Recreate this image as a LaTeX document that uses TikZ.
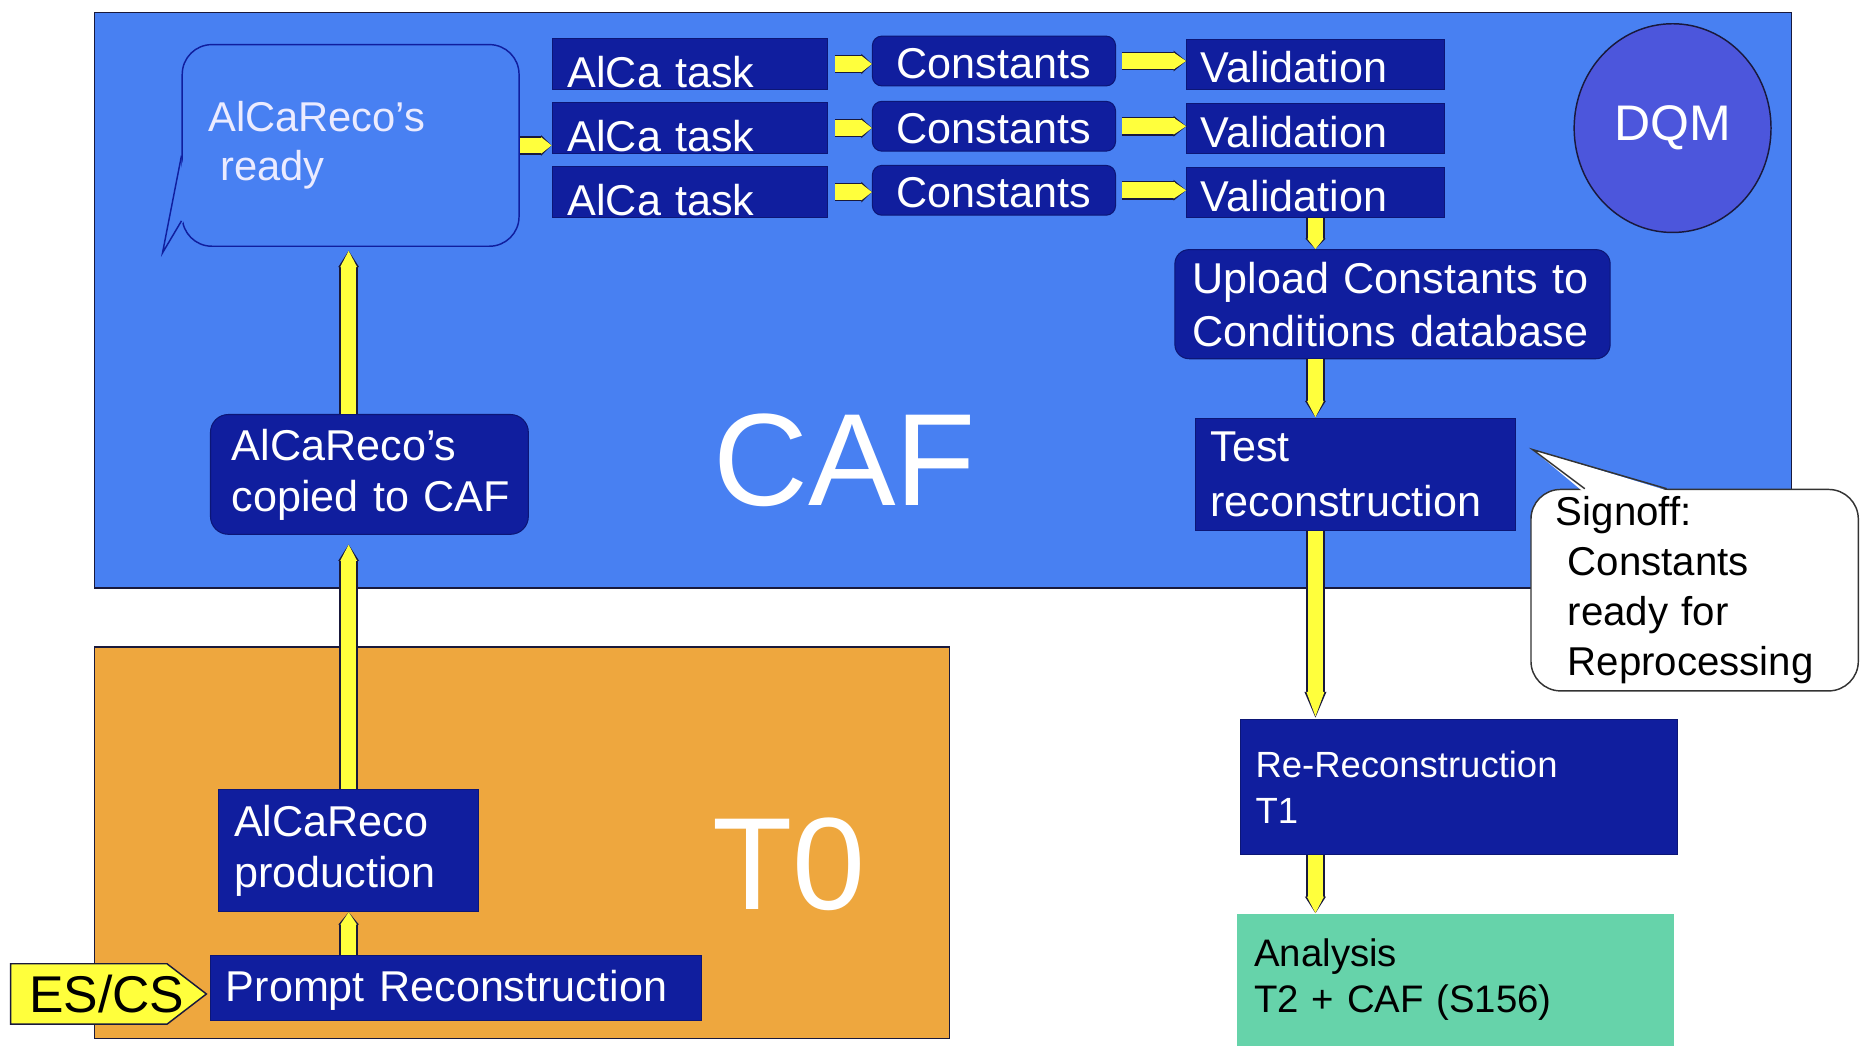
\documentclass[tikz,border=0pt]{standalone}
\usepackage{fontspec}
\setmainfont{Liberation Sans}
\setsansfont{Liberation Sans}
\usetikzlibrary{arrows.meta,calc,positioning,shapes.geometric,shapes.symbols}

\definecolor{cafblue}{RGB}{72,128,242}
\definecolor{tzorange}{RGB}{238,167,62}
\definecolor{taskblue}{RGB}{16,30,158}
\definecolor{dqmblue}{RGB}{76,86,220}
\definecolor{anagreen}{RGB}{102,211,170}
\definecolor{pipeyellow}{RGB}{255,255,60}
\definecolor{lineink}{RGB}{25,25,60}

\begin{document}
\begin{tikzpicture}[x=0.02cm, y=-0.02cm,
    region/.style={draw=lineink, line width=0.7pt, anchor=north west, inner sep=0pt},
    bigtext/.style={text=white, font=\fontsize{63}{63}\selectfont, inner sep=0pt},
    box/.style={fill=taskblue, draw=taskblue!75!black, line width=0.5pt, anchor=north west,
        text=white, font=\fontsize{20.7}{25}\selectfont, align=left},
    task/.style={box, minimum width=4.64cm, minimum height=0.86cm, inner xsep=0.26cm,
        inner ysep=0pt, text width=4.12cm, text height=0.8cm, text depth=0pt},
    const/.style={box, rounded corners=0.16cm, minimum width=4.1cm, minimum height=0.84cm,
        inner ysep=0pt, text height=0.58cm, text depth=0pt},
    valid/.style={box, minimum width=4.34cm, minimum height=0.84cm, inner xsep=0.24cm,
        inner ysep=0pt, text width=3.86cm, text height=0.62cm, text depth=0pt},
    callout/.style={anchor=north west, rounded corners=0.5cm, align=left, line width=0.7pt},
    pipe/.style={draw=pipeyellow, line width=7.5pt, -{Triangle[length=#1, width=7.5pt]},
        preaction={draw=lineink, line width=9pt, -{Triangle[length=#1, width=9.5pt]}}},
    pipe/.default=8pt
]
\fill[white] (0,0) rectangle (1568,881);
\useasboundingbox (0,0) rectangle (1568,881);

% the two sites
\node[region, fill=cafblue, minimum width=28.62cm, minimum height=9.7cm] (caf) at (79,10) {};
\node[region, fill=tzorange, minimum width=14.42cm, minimum height=6.6cm] (t0) at (79,545) {};
\node[bigtext] (caflabel) at (712,388) {CAF};
\node[bigtext] (t0label) at (665,729) {T0};

% CAF
\node[callout, fill=cafblue, draw=taskblue, minimum width=5.68cm, minimum height=3.4cm,
    inner xsep=0.44cm, text width=4.8cm, text=white!92!blue,
    font=\fontsize{20}{23.5}\selectfont] (ready) at (153,37) {AlCaReco's\\\hspace*{0.2cm}ready};

\node[task] (task1) at (465,32) {AlCa task};
\node[task] (task2) at (465,86) {AlCa task};
\node[task] (task3) at (465,140) {AlCa task};
\node[const] (const1) at (735,30) {Constants};
\node[const] (const2) at (735,85) {Constants};
\node[const] (const3) at (735,139) {Constants};
\node[valid] (val1) at (1000,33) {Validation};
\node[valid] (val2) at (1000,87) {Validation};
\node[valid] (val3) at (1000,141) {Validation};

\node[ellipse, fill=dqmblue, draw=lineink, line width=0.7pt, minimum width=3.32cm,
    minimum height=3.52cm, text=white, font=\fontsize{24}{24}\selectfont] (dqm) at (1410,108) {DQM};

\node[box, rounded corners=0.24cm, minimum width=7.34cm, minimum height=1.84cm,
    inner xsep=0.3cm, text width=6.74cm, font=\fontsize{20.7}{25.5}\selectfont]
    (upload) at (990,210) {\mbox{Upload Constants to}\\\mbox{Conditions database}};
\node[box, minimum width=5.4cm, minimum height=1.9cm, inner xsep=0.26cm, text width=4.88cm,
    font=\fontsize{20.7}{26}\selectfont] (test) at (1007,352) {Test\\reconstruction};
\node[box, rounded corners=0.3cm, minimum width=5.36cm, minimum height=2.02cm,
    inner xsep=0.36cm, text width=4.64cm, font=\fontsize{20.7}{24.5}\selectfont]
    (copied) at (177,349) {AlCaReco's\\\mbox{copied to CAF}};

% outside the sites
\node[callout, fill=white, draw=black!80, minimum width=5.52cm, minimum height=3.26cm,
    inner xsep=0.42cm, text width=4.68cm, font=\fontsize{19.3}{24}\selectfont]
    (signoff) at (1290,412) {Signoff:\\\hspace*{0.2cm}Constants\\\hspace*{0.2cm}ready for\\\hspace*{0.2cm}Reprocessing};
\node[box, minimum width=7.38cm, minimum height=2.28cm, inner xsep=0.26cm, text width=6.86cm,
    font=\fontsize{17.5}{22}\selectfont] (rereco) at (1045,606) {Re-Reconstruction\\T1};
\node[box, fill=anagreen, draw=none, minimum width=7.38cm, minimum height=2.22cm,
    inner xsep=0.3cm, text width=6.78cm, text=black, font=\fontsize{18.4}{22}\selectfont]
    (analysis) at (1042,770) {Analysis\\T2 + CAF (S156)};

% T0
\node[box, minimum width=4.38cm, minimum height=2.06cm, inner xsep=0.26cm, text width=3.86cm,
    font=\fontsize{20.7}{24.5}\selectfont] (prod) at (184,665) {AlCaReco\\production};
\node[box, minimum width=8.28cm, minimum height=1.1cm, inner xsep=0.26cm, inner ysep=0pt,
    text width=7.76cm, text height=0.46cm, text depth=0pt] (prompt) at (177,805) {Prompt Reconstruction};
\node[signal, signal to=east, signal pointer angle=75, fill=pipeyellow, draw=lineink,
    line width=0.7pt, minimum width=3.3cm, minimum height=1.02cm, inner sep=0pt,
    font=\fontsize{24.8}{24.8}\selectfont, left=0.04cm of prompt, yshift=-0.1cm]
    (escs) {\hspace*{0.3cm}ES/CS\hspace*{-0.3cm}};

% bubble tails
\fill[cafblue] ($(ready.south west)+(2,-77)$) -- ($(ready.south west)+(-16,5)$)
    -- ($(ready.south west)+(2,-22)$) -- cycle;
\draw[taskblue, line width=0.7pt] ($(ready.south west)+(0,-77)$) -- ($(ready.south west)+(-16,5)$)
    -- ($(ready.south west)+(0,-22)$);
\fill[white] ($(signoff.north west)+(44,2)$) -- ($(signoff.north west)+(2,-33)$)
    -- ($(signoff.north west)+(117,2)$) -- cycle;
\draw[black!80, line width=0.7pt] ($(signoff.north west)+(46,0)$) -- ($(signoff.north west)+(2,-33)$)
    -- ($(signoff.north west)+(115,0)$);

% flow
\draw[pipe=5pt] (ready.east) -- (ready.east -| task2.west);
\draw[pipe=5pt, shorten <=0.12cm] (task1.east) -- (task1.east -| const1.west);
\draw[pipe=5pt, shorten <=0.12cm] (task2.east) -- (task2.east -| const2.west);
\draw[pipe=5pt, shorten <=0.12cm] (task3.east) -- (task3.east -| const3.west);
\draw[pipe=6pt, shorten <=0.1cm] (const1.east) -- (const1.east -| val1.west);
\draw[pipe=6pt, shorten <=0.1cm] (const2.east) -- (const2.east -| val2.west);
\draw[pipe=6pt, shorten <=0.1cm] (const3.east) -- (const3.east -| val3.west);
\draw[pipe=5pt] (val3.south) -- (val3.south |- upload.north);
\draw[pipe] (upload.south -| val3.south) -- (test.north -| val3.south);
\draw[pipe=13pt] (test.south -| val3.south) -- (rereco.north -| val3.south);
\draw[pipe] (rereco.south -| val3.south) -- (analysis.north -| val3.south);

\draw[pipe=6pt] (prompt.north -| prod.south) -- (prod.south);
\draw[pipe, shorten >=0.16cm] (prod.north) -- (prod.north |- copied.south);
\draw[pipe, shorten >=0.06cm] (copied.north -| prod.north) -- (ready.south -| prod.north);
\end{tikzpicture}
\end{document}
